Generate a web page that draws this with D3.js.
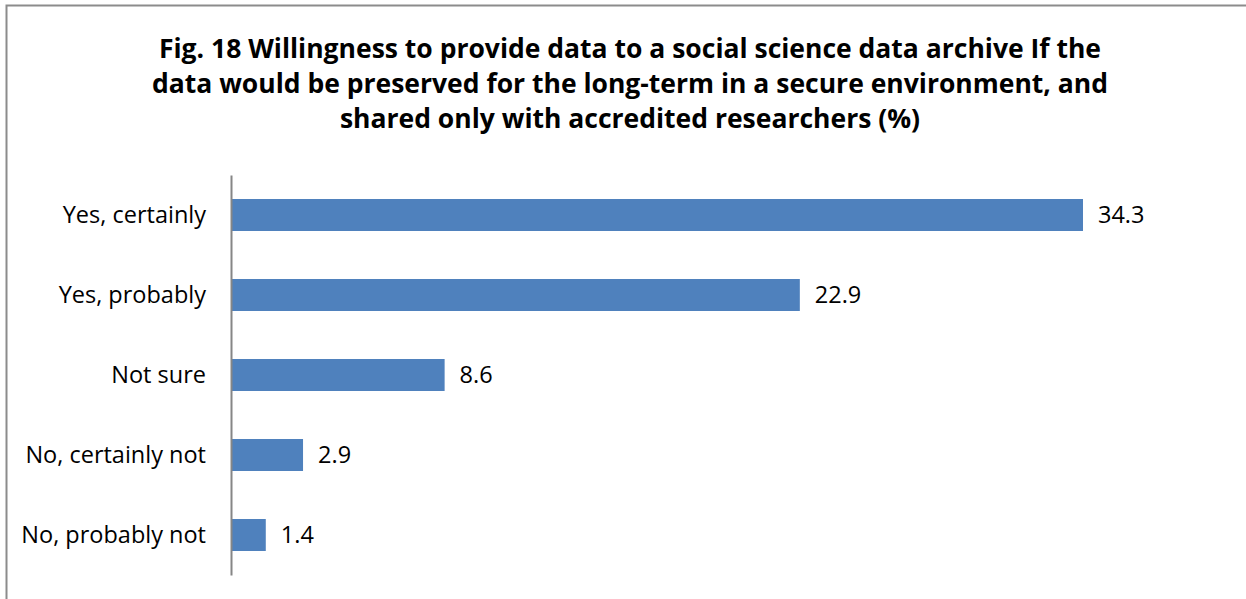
<!DOCTYPE html>
<html lang="en">
<head>
    <meta charset="UTF-8">
    <title>Fig. 18</title>
    <script src="https://cdn.jsdelivr.net/npm/d3@7"></script>
    <style>
        body { margin: 0; background: #fff; }
        svg text { font-family: "Open Sans", sans-serif; fill: #000; }
        .title { font-weight: 700; font-size: 26.5px; }
        .cat, .val { font-size: 23.5px; }
    </style>
</head>
<body>
    <svg id="chart" width="1246" height="599"></svg>
    <script>
        // data
        var categories = ["Yes, certainly", "Yes, probably", "Not sure", "No, certainly not", "No, probably not"];
        var values = [34.3, 22.9, 8.6, 2.9, 1.4];
        var titleLines = [
            "Fig. 18 Willingness to provide data to a social science data archive If the",
            "data would be preserved for the long-term in a secure environment, and",
            "shared only with accredited researchers (%)"
        ];

        var svg = d3.select("#chart");

        // outer chart border (runs off the right and bottom edge)
        svg.append("rect")
            .attr("x", 6.5).attr("y", 5.5)
            .attr("width", 1260).attr("height", 620)
            .attr("fill", "none").attr("stroke", "#8c8c8c").attr("stroke-width", 2);

        svg.selectAll("text.title").data(titleLines).enter().append("text")
            .attr("class", "title")
            .attr("x", 630)
            .attr("y", function (d, i) { return 58 + i * 35; })
            .attr("text-anchor", "middle")
            .text(function (d) { return d; });

        var x = d3.scaleLinear().domain([0, 34.3]).range([231, 1083]);
        var y = d3.scaleBand().domain(categories).range([175, 575]).paddingInner(0.6).paddingOuter(0.3);

        svg.selectAll("rect.bar").data(values).enter().append("rect")
            .attr("class", "bar")
            .attr("x", x(0))
            .attr("y", function (d, i) { return y(categories[i]); })
            .attr("width", function (d) { return x(d) - x(0); })
            .attr("height", y.bandwidth())
            .attr("fill", "#4f81bd");

        svg.selectAll("text.val").data(values).enter().append("text")
            .attr("class", "val")
            .attr("x", function (d) { return x(d) + 15; })
            .attr("y", function (d, i) { return y(categories[i]) + y.bandwidth() / 2; })
            .attr("dy", "0.35em")
            .text(function (d) { return d.toFixed(1); });

        // category axis, no ticks
        var axis = svg.append("g")
            .attr("transform", "translate(" + x(0) + ",0)")
            .call(d3.axisLeft(y).tickSize(0).tickPadding(25));
        axis.select(".domain").attr("stroke", "#868686").attr("stroke-width", 2);
        axis.selectAll("text").attr("class", "cat").attr("font-family", null).attr("font-size", null);
    </script>
</body>
</html>
